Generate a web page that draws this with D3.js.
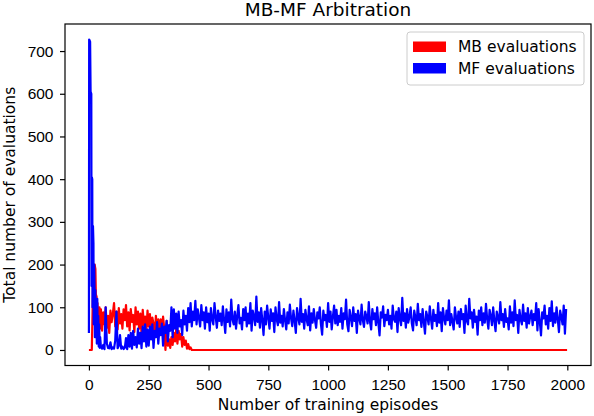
<!DOCTYPE html>
<html>
<head>
<meta charset="UTF-8" />
<script src="https://d3js.org/d3.v7.min.js"></script>
<style>
  body { margin: 0; background: #fff; }
  svg { display: block; font-family: "DejaVu Sans", sans-serif; }
  .tick text { font-size: 15.5px; fill: #000; }
  .tick line { stroke: #000; stroke-width: 1.2px; }
  .domain { display: none; }
</style>
</head>
<body>
<svg width="594" height="416"></svg>
<script>
// early episodes (fine sampling): [episode, value]
const mfStart = [[0,40],[1,727],[5,722],[7,605],[10,600],[11,150],[12,405],[14,400],[15,100],
  [17,290],[19,250],[20,60],[22,200],[24,120],[25,30],[27,140],[29,60],[31,110],[33,15],[35,120],
  [37,25],[39,80],[41,8],[43,60],[45,5],[47,30]];
const mbStart = [[0,0],[12,0],[15,80],[17,150],[20,195],[24,200],[27,190],[29,130],[32,125],
  [34,60],[36,110],[38,45],[40,95],[42,55],[44,100],[46,50],[48,90]];

// from episode 50 on, one value every 5 episodes
const sampleFrom = 50, sampleStep = 5;
const mfValues = [
  8, 3, 12, 2, 100, 15, 5, 4, 18, 2, 6, 3, 22, 90, 4, 10, 35, 3, 8, 2,
  5, 28, 2, 35, 8, 40, 3, 45, 12, 30, 6, 50, 15, 40, 4, 55, 20, 60, 8, 48,
  10, 55, 25, 60, 5, 45, 30, 65, 15, 50, 35, 62, 10, 55, 40, 68, 20, 58, 45, 100,
  30, 95, 50, 85, 40, 90, 55, 70, 35, 92, 60, 80, 45, 98, 65, 110, 55, 90, 70, 115,
  60, 95, 75, 55, 105, 70, 88, 50, 100, 65, 85, 45, 98, 72, 60, 110, 78, 52, 92, 68,
  85, 58, 102, 70, 40, 95, 66, 88, 55, 118, 72, 60, 90, 50, 80, 105, 62, 75, 48, 96,
  70, 100, 55, 85, 62, 110, 45, 92, 78, 58, 125, 66, 88, 52, 98, 70, 35, 90, 60, 104,
  75, 50, 95, 68, 86, 42, 100, 72, 58, 112, 64, 80, 55, 96, 70, 48, 88, 62, 106, 74,
  56, 92, 68, 40, 98, 76, 60, 120, 66, 84, 50, 94, 72, 58, 102, 46, 86, 64, 96, 70,
  52, 88, 74, 100, 60, 36, 92, 70, 82, 54, 110, 66, 90, 48, 78, 104, 62, 94, 58, 80,
  66, 98, 50, 86, 72, 118, 60, 44, 94, 76, 56, 100, 68, 84, 40, 92, 74, 60, 106, 70,
  54, 90, 78, 62, 112, 66, 48, 96, 72, 86, 58, 100, 64, 34, 88, 76, 102, 56, 82, 70,
  94, 60, 80, 50, 104, 72, 66, 90, 42, 98, 74, 58, 122, 68, 86, 52, 96, 64, 78, 100,
  62, 46, 92, 76, 58, 108, 70, 84, 54, 96, 66, 38, 90, 78, 60, 102, 72, 50, 94, 68,
  82, 56, 110, 64, 88, 44, 98, 74, 60, 92, 70, 116, 58, 84, 66, 48, 100, 76, 62, 90,
  54, 96, 72, 84, 40, 104, 68, 60, 120, 74, 88, 52, 94, 66, 78, 36, 92, 70, 100, 58,
  86, 64, 108, 72, 50, 94, 80, 58, 100, 68, 44, 90, 76, 62, 112, 70, 84, 54, 96, 66,
  74, 48, 102, 64, 88, 56, 116, 70, 82, 40, 94, 72, 60, 106, 68, 86, 52, 98, 62, 78,
  92, 58, 84, 70, 110, 46, 96, 66, 34, 88, 74, 104, 60, 80, 50, 98, 68, 114, 56, 86,
  64, 100, 72, 42, 92, 78, 60, 104, 38, 96
];
const mbValues = [
  95, 45, 88, 60, 100, 52, 80, 40, 92, 65, 85, 110, 55, 90, 48, 98, 62, 84, 50, 95,
  70, 105, 55, 88, 46, 96, 66, 82, 42, 100, 60, 90, 50, 85, 38, 94, 58, 78, 45, 92,
  55, 84, 40, 76, 62, 30, 80, 48, 72, 35, 72, 35, 78, 50, 0, 68, 10, 25, 5, 30,
  12, 40, 20, 48, 15, 45, 25, 38, 8, 30, 12, 22, 3, 14, 2, 6, 0
];
// MB stays at zero to the last episode
const mbEnd = [[1999, 0]];

const xTicks = [0, 250, 500, 750, 1000, 1250, 1500, 1750, 2000];
const yTicks = [0, 100, 200, 300, 400, 500, 600, 700];

const toPairs = vals => vals.map((v, i) => [sampleFrom + i * sampleStep, v]);
const mfData = mfStart.concat(toPairs(mfValues));
const mbData = mbStart.concat(toPairs(mbValues), mbEnd);

const svg = d3.select("svg");
const plotL = 65, plotR = 591, plotT = 24, plotB = 365.5;

const x = d3.scaleLinear().domain([-100, 2099]).range([plotL, plotR]);
const y = d3.scaleLinear().domain([-36.35, 763.35]).range([plotB, plotT]);

const line = d3.line().x(d => x(d[0])).y(d => y(d[1]));

svg.append("path").datum(mbData)
  .attr("d", line).attr("fill", "none")
  .attr("stroke", "#ff0000").attr("stroke-width", 2.2).attr("stroke-linejoin", "round");
svg.append("path").datum(mfData)
  .attr("d", line).attr("fill", "none")
  .attr("stroke", "#0000ff").attr("stroke-width", 2.2).attr("stroke-linejoin", "round");

// axes
svg.append("g").attr("transform", `translate(0,${plotB})`)
  .call(d3.axisBottom(x).tickValues(xTicks).tickFormat(d3.format("d"))
    .tickSize(5).tickPadding(8).tickSizeOuter(0));
svg.append("g").attr("transform", `translate(${plotL},0)`)
  .call(d3.axisLeft(y).tickValues(yTicks).tickSize(5).tickPadding(6.5).tickSizeOuter(0));

svg.append("rect")
  .attr("x", plotL).attr("y", plotT)
  .attr("width", plotR - plotL).attr("height", plotB - plotT)
  .attr("fill", "none").attr("stroke", "#000").attr("stroke-width", 1.2);

// labels
svg.append("text").attr("x", (plotL + plotR) / 2).attr("y", 16)
  .attr("text-anchor", "middle").attr("font-size", 18.5).text("MB-MF Arbitration");
svg.append("text").attr("x", (plotL + plotR) / 2).attr("y", 410)
  .attr("text-anchor", "middle").attr("font-size", 15.5).text("Number of training episodes");
svg.append("text")
  .attr("transform", `translate(14.5,${(plotT + plotB) / 2}) rotate(-90)`)
  .attr("text-anchor", "middle").attr("font-size", 15.5).text("Total number of evaluations");

// legend
const legend = svg.append("g");
legend.append("rect")
  .attr("x", 407).attr("y", 32).attr("width", 177).attr("height", 53).attr("rx", 3)
  .attr("fill", "#fff").attr("fill-opacity", 0.8)
  .attr("stroke", "#cccccc").attr("stroke-width", 1);
const entries = [["MB evaluations", "#ff0000"], ["MF evaluations", "#0000ff"]];
entries.forEach(([label, color], i) => {
  legend.append("rect")
    .attr("x", 413).attr("y", 41.5 + i * 21.5).attr("width", 33).attr("height", 10.5)
    .attr("fill", color);
  legend.append("text")
    .attr("x", 458).attr("y", 52 + i * 21.5)
    .attr("font-size", 15.5).text(label);
});
</script>
</body>
</html>
